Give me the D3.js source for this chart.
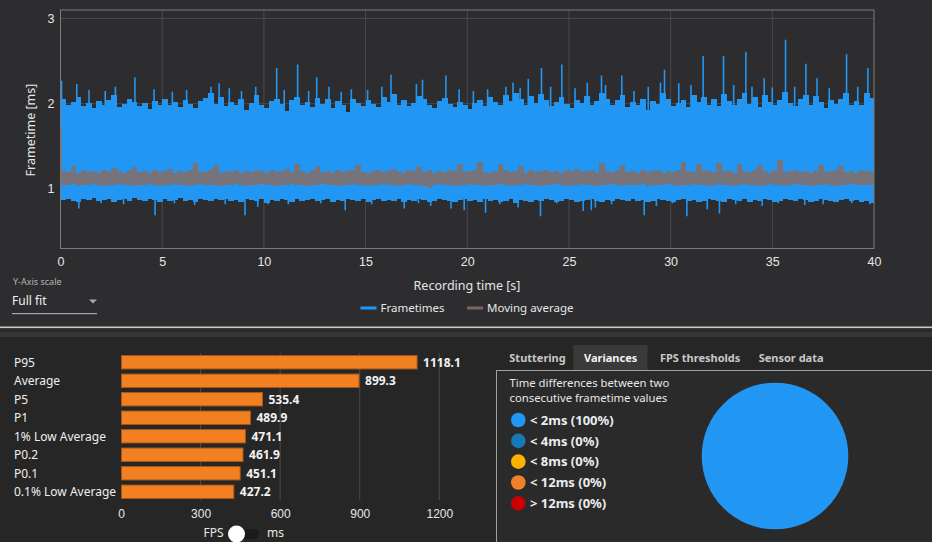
<!DOCTYPE html>
<html><head><meta charset="utf-8">
<script src="https://cdn.jsdelivr.net/npm/d3@7"></script>
<style>
html,body{margin:0;padding:0;background:#2d2d30;overflow:hidden;}
svg{display:block;font-family:"Segoe UI","Noto Sans",sans-serif;}
</style></head>
<body><svg id="c" width="932" height="542"></svg>
<script>
// ---------- DATA ----------
const binSeconds = 0.25;
// frametime envelope per 0.25 s bin (ms): body top / body bottom
const ftHigh = [
2.05,1.98,2.02,2.08,1.97,2.01,1.95,2.03,1.99,2.04,2.10,1.96,2.00,2.05,2.02,1.97,
2.01,1.94,2.03,1.99,2.06,1.98,2.02,1.96,2.04,2.00,1.95,2.03,2.07,2.12,2.00,2.08,
1.97,2.02,1.99,2.05,1.93,2.01,2.10,1.98,1.95,2.03,2.06,2.00,1.92,2.04,2.08,1.99,
2.02,1.96,2.07,2.00,2.06,1.95,2.03,1.98,1.90,2.05,2.01,1.97,2.04,2.00,1.96,2.08,
2.02,2.11,1.98,2.04,1.97,2.01,2.09,2.06,1.99,1.95,2.03,2.07,2.00,1.96,2.02,1.98,
1.94,2.01,2.04,1.97,2.08,2.02,1.99,2.10,2.03,2.12,2.05,1.98,2.09,2.01,2.11,2.04,
1.97,2.02,2.08,2.00,1.95,2.04,2.01,2.09,1.98,2.03,2.12,2.06,1.99,2.04,2.10,1.96,
2.02,1.98,2.05,1.93,2.03,2.00,2.13,2.06,1.97,2.01,2.04,1.96,2.10,2.02,2.08,1.99,
2.05,1.97,2.11,2.03,1.99,2.06,2.12,2.00,2.08,1.96,2.10,2.02,1.98,2.04,2.14,2.01,
1.97,2.05,2.10,1.99,2.09,2.02,1.95,2.04,2.00,2.06,2.12,1.98,2.03,1.99,2.13,2.07];
const ftLow = [
0.87,0.88,0.86,0.85,0.88,0.87,0.89,0.86,0.87,0.88,0.85,0.87,0.88,0.86,0.89,0.87,
0.86,0.88,0.87,0.85,0.88,0.86,0.87,0.89,0.86,0.87,0.85,0.88,0.87,0.86,0.88,0.87,
0.88,0.86,0.87,0.85,0.88,0.87,0.86,0.88,0.84,0.87,0.86,0.88,0.87,0.85,0.88,0.86,
0.87,0.88,0.86,0.87,0.88,0.85,0.87,0.86,0.88,0.87,0.86,0.88,0.85,0.87,0.88,0.86,
0.87,0.86,0.88,0.85,0.87,0.86,0.88,0.87,0.85,0.86,0.88,0.87,0.86,0.85,0.87,0.88,
0.86,0.87,0.85,0.88,0.86,0.87,0.85,0.86,0.88,0.84,0.87,0.86,0.85,0.87,0.86,0.88,
0.87,0.85,0.86,0.88,0.87,0.85,0.86,0.87,0.88,0.86,0.85,0.87,0.86,0.88,0.87,0.86,
0.88,0.86,0.87,0.85,0.86,0.88,0.87,0.86,0.85,0.87,0.88,0.86,0.87,0.85,0.86,0.88,
0.87,0.86,0.85,0.88,0.87,0.86,0.88,0.85,0.87,0.86,0.88,0.87,0.85,0.86,0.88,0.87,
0.86,0.88,0.87,0.85,0.86,0.88,0.87,0.86,0.85,0.87,0.88,0.86,0.87,0.85,0.86,0.84];
// isolated long / short frames [time s, frametime ms]
const ftPeaks = [
[0.05,2.27],[0.8,2.23],[1.4,2.16],[2.2,2.15],[2.7,2.2],[3.66,2.31],[4.6,2.17],[5.5,2.14],
[6.2,2.16],[7.4,2.2],[7.8,2.24],[8.3,2.18],[8.9,2.15],[9.6,2.2],[10.63,2.42],[11.0,2.16],
[11.66,2.46],[12.2,2.15],[12.6,2.31],[13.2,2.2],[13.8,2.14],[14.3,2.17],[15.1,2.16],[15.8,2.2],
[16.25,2.34],[17.5,2.23],[17.8,2.28],[18.95,2.33],[19.6,2.17],[20.3,2.15],[21.0,2.17],[21.9,2.2],
[22.25,2.25],[22.6,2.18],[23.0,2.29],[23.65,2.42],[24.1,2.2],[24.65,2.46],[25.3,2.18],[25.9,2.25],
[26.6,2.33],[26.8,2.22],[27.6,2.33],[28.2,2.15],[28.9,2.2],[29.5,2.25],[29.7,2.4],[30.4,2.24],
[31.0,2.22],[31.6,2.56],[32.6,2.56],[33.1,2.22],[33.7,2.61],[34.0,2.2],[34.6,2.3],[35.0,2.19],
[35.65,2.75],[36.1,2.2],[36.65,2.47],[37.2,2.3],[37.8,2.18],[38.65,2.58],[39.2,2.2],[39.7,2.42]];
const ftDips = [
[0.9,0.77],[2.0,0.83],[3.1,0.82],[4.65,0.69],[5.6,0.83],[6.6,0.81],[8.1,0.82],[9.07,0.69],
[9.7,0.79],[10.2,0.82],[11.2,0.82],[12.8,0.83],[14.0,0.75],[15.3,0.82],[16.9,0.77],[17.6,0.83],
[18.2,0.80],[19.2,0.77],[19.85,0.75],[20.9,0.72],[21.6,0.82],[22.5,0.78],[23.6,0.68],[24.4,0.83],
[25.7,0.74],[26.1,0.75],[26.3,0.78],[27.1,0.82],[28.7,0.69],[29.3,0.80],[30.1,0.83],[30.8,0.68],
[31.8,0.76],[32.4,0.71],[33.2,0.82],[34.5,0.80],[35.3,0.83],[36.6,0.81],[37.5,0.82],[38.9,0.83],[39.8,0.82]];
// moving average envelope per bin (ms)
const maHigh = [
1.21,1.20,1.27,1.19,1.22,1.20,1.21,1.19,1.22,1.20,1.25,1.21,1.19,1.22,1.26,1.20,
1.21,1.19,1.22,1.20,1.21,1.23,1.19,1.21,1.20,1.22,1.30,1.21,1.20,1.22,1.28,1.19,
1.21,1.20,1.22,1.19,1.21,1.20,1.22,1.21,1.19,1.22,1.20,1.21,1.23,1.20,1.29,1.21,
1.19,1.22,1.27,1.20,1.21,1.19,1.22,1.20,1.21,1.22,1.28,1.20,1.19,1.21,1.22,1.20,
1.21,1.23,1.20,1.19,1.22,1.21,1.26,1.20,1.22,1.19,1.21,1.20,1.22,1.21,1.29,1.20,
1.21,1.22,1.31,1.20,1.19,1.21,1.29,1.22,1.20,1.21,1.27,1.19,1.22,1.20,1.21,1.22,
1.20,1.21,1.19,1.22,1.21,1.23,1.20,1.21,1.22,1.19,1.30,1.21,1.20,1.22,1.28,1.20,
1.21,1.19,1.22,1.20,1.21,1.22,1.19,1.21,1.20,1.22,1.31,1.21,1.20,1.29,1.22,1.21,
1.20,1.30,1.21,1.22,1.19,1.29,1.21,1.20,1.22,1.28,1.21,1.19,1.22,1.34,1.20,1.21,
1.22,1.20,1.21,1.19,1.22,1.28,1.20,1.21,1.22,1.27,1.20,1.21,1.19,1.22,1.21,1.20];
const maLow = [
1.05,1.04,1.06,1.03,1.05,1.04,1.06,1.05,1.03,1.05,1.04,1.06,1.05,1.04,1.03,1.05,
1.04,1.06,1.05,1.03,1.04,1.05,1.06,1.04,1.05,1.03,1.04,1.06,1.05,1.04,1.05,1.03,
1.05,1.04,1.06,1.05,1.03,1.04,1.05,1.06,1.04,1.05,1.03,1.04,1.05,1.06,1.04,1.05,
1.03,1.05,1.04,1.06,1.05,1.04,1.03,1.05,1.04,1.06,1.05,1.04,1.03,1.05,1.04,1.06,
1.05,1.04,1.03,1.05,1.06,1.04,1.05,1.03,1.01,1.04,1.06,1.05,1.04,1.03,1.05,1.04,
1.06,1.05,1.04,1.03,1.05,1.04,1.06,1.05,1.03,1.04,1.05,1.06,1.04,1.05,1.03,1.04,
1.05,1.06,1.04,1.03,1.05,1.04,1.06,1.05,1.04,1.03,1.05,1.04,1.06,1.05,1.03,1.04,
1.05,1.04,1.06,1.03,1.05,1.04,1.05,1.06,1.04,1.03,1.05,1.04,1.06,1.05,1.04,1.03,
1.05,1.06,1.04,1.05,1.03,1.04,1.06,1.05,1.04,1.03,1.05,1.06,1.04,1.05,1.03,1.04,
1.06,1.04,1.05,1.03,1.05,1.04,1.06,1.05,1.03,1.04,1.05,1.06,1.04,1.05,1.04,1.05];
const maPeaks = [[0.03,1.69]];
const xTicks = [0,5,10,15,20,25,30,35,40];
const yTicks = [1,2,3];
const barCategories = ["P95","Average","P5","P1","1% Low Average","P0.2","P0.1","0.1% Low Average"];
const barValues = [1118.1,899.3,535.4,489.9,471.1,461.9,451.1,427.2];
const barTicks = [0,300,600,900,1200];
const tabNames = ["Stuttering","Variances","FPS thresholds","Sensor data"];
const varianceLabels = ["< 2ms (100%)","< 4ms (0%)","< 8ms (0%)","< 12ms (0%)","> 12ms (0%)"];
const varianceShares = [100,0,0,0,0];
const varianceColors = ["#2196f3","#1878b8","#ffb300","#f0812a","#c80000"];

// ---------- DRAW ----------
const svg = d3.select("#c");
const W = 932, H = 542;
const BLUE = "#2196f3", MA = "#77737a";
const fmt = d3.format("d");

// backgrounds
svg.append("rect").attr("width",W).attr("height",H).attr("fill","#2d2d30");
svg.append("rect").attr("y",332).attr("width",W).attr("height",5).attr("fill","#363636");
svg.append("rect").attr("y",337).attr("width",W).attr("height",H-337).attr("fill","#262626");
svg.append("rect").attr("y",328).attr("width",W).attr("height",4).attr("fill","#2a2a2a");
svg.append("rect").attr("y",326.5).attr("width",W).attr("height",1.6).attr("fill","#c8c8c8");

// ---- top frametime chart ----
const pL = 60.5, pR = 874, pT = 10, pB = 248.5;
const x = d3.scaleLinear().domain([0,40]).range([pL,pR]);
const y = d3.scaleLinear().domain([0.3,3.1]).range([pB,pT]);

const topG = svg.append("g");
topG.append("clipPath").attr("id","pc").append("rect")
  .attr("x",pL).attr("y",pT).attr("width",pR-pL).attr("height",pB-pT);

// grid
topG.selectAll(".vg").data(xTicks.slice(1,-1)).join("line")
  .attr("x1",d=>x(d)).attr("x2",d=>x(d)).attr("y1",pT).attr("y2",pB)
  .attr("stroke","#4a4a4c").attr("stroke-width",1);
topG.selectAll(".hg").data(yTicks).join("line")
  .attr("x1",pL).attr("x2",pR).attr("y1",d=>y(d)).attr("y2",d=>y(d))
  .attr("stroke","#4a4a4c").attr("stroke-width",1);

const dg = topG.append("g").attr("clip-path","url(#pc)");
const bw = x(binSeconds) - x(0);
// frametime body
dg.selectAll(".ft").data(ftHigh).join("rect")
  .attr("x",(d,i)=>x(i*binSeconds)).attr("width",bw+0.6)
  .attr("y",d=>y(d)).attr("height",(d,i)=>y(ftLow[i])-y(d))
  .attr("fill",BLUE).attr("shape-rendering","crispEdges");
dg.selectAll(".pk").data(ftPeaks).join("line")
  .attr("x1",d=>x(d[0])).attr("x2",d=>x(d[0]))
  .attr("y1",y(1.9)).attr("y2",d=>y(d[1]))
  .attr("stroke",BLUE).attr("stroke-width",1.6);
dg.selectAll(".dp").data(ftDips).join("line")
  .attr("x1",d=>x(d[0])).attr("x2",d=>x(d[0]))
  .attr("y1",y(0.95)).attr("y2",d=>y(d[1]))
  .attr("stroke",BLUE).attr("stroke-width",1.6);
// moving average
dg.selectAll(".ma").data(maHigh).join("rect")
  .attr("x",(d,i)=>x(i*binSeconds)).attr("width",bw+0.6)
  .attr("y",d=>y(d)).attr("height",(d,i)=>y(maLow[i])-y(d))
  .attr("fill",MA).attr("shape-rendering","crispEdges");
dg.selectAll(".mp").data(maPeaks).join("line")
  .attr("x1",d=>x(d[0])).attr("x2",d=>x(d[0]))
  .attr("y1",y(1.1)).attr("y2",d=>y(d[1]))
  .attr("stroke",MA).attr("stroke-width",1.5);

// border
topG.append("rect").attr("x",pL).attr("y",pT).attr("width",pR-pL).attr("height",pB-pT)
  .attr("fill","none").attr("stroke","#7c7c7e").attr("stroke-width",1);

// axes
const xa = topG.append("g").attr("transform",`translate(0,${pB})`)
  .call(d3.axisBottom(x).tickValues(xTicks).tickFormat(fmt).tickSize(0).tickPadding(9));
xa.select(".domain").remove();
xa.selectAll("text").attr("fill","#e6e6e6").attr("font-size",12.5).attr("font-family",null);
const ya = topG.append("g").attr("transform",`translate(${pL},0)`)
  .call(d3.axisLeft(y).tickValues(yTicks).tickFormat(fmt).tickSize(0).tickPadding(6));
ya.select(".domain").remove();
ya.selectAll("text").attr("fill","#e6e6e6").attr("font-size",12.5).attr("font-family",null);

topG.append("text").attr("x",467).attr("y",290).attr("text-anchor","middle")
  .attr("fill","#e6e6e6").attr("font-size",12.5).text("Recording time [s]");
topG.append("text").attr("transform","translate(35,130) rotate(-90)").attr("text-anchor","middle")
  .attr("fill","#e6e6e6").attr("font-size",12.5).text("Frametime [ms]");

// legend
const lg = [["Frametimes","#2196f3",360.5],["Moving average","#7b655e",467]];
lg.forEach(([t,c,lx])=>{
  svg.append("rect").attr("x",lx).attr("y",306.5).attr("width",16).attr("height",3).attr("fill",c);
  svg.append("text").attr("x",lx+20).attr("y",312).attr("fill","#e6e6e6").attr("font-size",11.5).text(t);
});

// Y-axis scale control
svg.append("text").attr("x",13).attr("y",285).attr("fill","#b4b4b4").attr("font-size",9).text("Y-Axis scale");
svg.append("text").attr("x",12).attr("y",304.5).attr("fill","#f0f0f0").attr("font-size",12).text("Full fit");
svg.append("path").attr("d","M89,299.5 L97,299.5 L93,303.5 Z").attr("fill","#aaaaaa");
svg.append("rect").attr("x",12).attr("y",313).attr("width",85).attr("height",1.2).attr("fill","#a8a8a8");

// ---- bottom-left bar chart ----
const bx = d3.scaleLinear().domain([0,1200]).range([121,439.3]);
const by = d3.scaleBand().domain(barCategories).range([353,501]).paddingInner(0.22).paddingOuter(0.11);
const bar = svg.append("g");
bar.selectAll(".bg").data(barTicks.slice(1)).join("line")
  .attr("x1",d=>bx(d)).attr("x2",d=>bx(d)).attr("y1",353).attr("y2",500)
  .attr("stroke","#4a4a4a").attr("stroke-width",1);
bar.selectAll(".br").data(barValues).join("rect")
  .attr("x",bx(0)+0.5).attr("y",(d,i)=>by(barCategories[i])+0.5)
  .attr("width",d=>bx(d)-bx(0)-1).attr("height",by.bandwidth()-1)
  .attr("fill","#f28022").attr("stroke","#a4571a").attr("stroke-width",1);
bar.selectAll(".bv").data(barValues).join("text")
  .attr("x",d=>bx(d)+5.5).attr("y",(d,i)=>by(barCategories[i])+by.bandwidth()/2+4.3)
  .attr("fill","#f2f2f2").attr("font-size",12).attr("font-weight","bold").text(d=>d.toFixed(1));
bar.selectAll(".bc").data(barCategories).join("text")
  .attr("x",14).attr("y",d=>by(d)+by.bandwidth()/2+4.5)
  .attr("fill","#efefef").attr("font-size",12).text(d=>d);
const bax = bar.append("g").attr("transform","translate(0,503)")
  .call(d3.axisBottom(bx).tickValues(barTicks).tickFormat(fmt).tickSize(0).tickPadding(6));
bax.select(".domain").remove();
bax.selectAll("text").attr("fill","#e6e6e6").attr("font-size",12).attr("font-family",null);

// FPS / ms toggle
svg.append("text").attr("x",223.5).attr("y",537).attr("text-anchor","end").attr("fill","#e6e6e6").attr("font-size",12).text("FPS");
svg.append("rect").attr("x",230).attr("y",529).attr("width",29).attr("height",10).attr("rx",5).attr("fill","#1b1b1b");
svg.append("circle").attr("cx",236.5).attr("cy",534).attr("r",8.5).attr("fill","#ffffff");
svg.append("text").attr("x",267).attr("y",537).attr("fill","#e6e6e6").attr("font-size",12).text("ms");

// ---- bottom-right tabbed panel ----
svg.append("rect").attr("x",496.5).attr("y",370.5).attr("width",W-496).attr("height",H-370)
  .attr("fill","#2a2a2b").attr("stroke","#a0a0a0").attr("stroke-width",1);
svg.append("rect").attr("x",573.5).attr("y",345).attr("width",74).attr("height",25).attr("fill","#3a3a3b");
const tabX = [509.3,584,660,758.7];
tabNames.forEach((t,i)=>{
  svg.append("text").attr("x",tabX[i]).attr("y",361.5).attr("fill", i===1?"#f4f4f4":"#c8c8c8")
    .attr("font-size",11).attr("font-weight","bold").text(t);
});
svg.append("text").attr("x",509.5).attr("y",386.5).attr("fill","#e8e8e8").attr("font-size",11.3).text("Time differences between two");
svg.append("text").attr("x",509.5).attr("y",401.5).attr("fill","#e8e8e8").attr("font-size",11.3).text("consecutive frametime values");
const ly = d3.scalePoint().domain(varianceLabels).range([420,503.3]);
svg.selectAll(".vc").data(varianceLabels).join("circle")
  .attr("cx",518.3).attr("cy",d=>ly(d)).attr("r",7.3).attr("fill",(d,i)=>varianceColors[i]);
svg.selectAll(".vt").data(varianceLabels).join("text")
  .attr("x",530).attr("y",d=>ly(d)+4.7).attr("fill","#ececec").attr("font-size",13).attr("font-weight","bold").text(d=>d);

const pie = d3.pie().sort(null)(varianceShares);
const arc = d3.arc().innerRadius(0).outerRadius(73.3);
svg.append("g").attr("transform","translate(775,456)")
  .selectAll("path").data(pie).join("path").attr("d",arc).attr("fill",(d,i)=>varianceColors[i]);
</script></body></html>
